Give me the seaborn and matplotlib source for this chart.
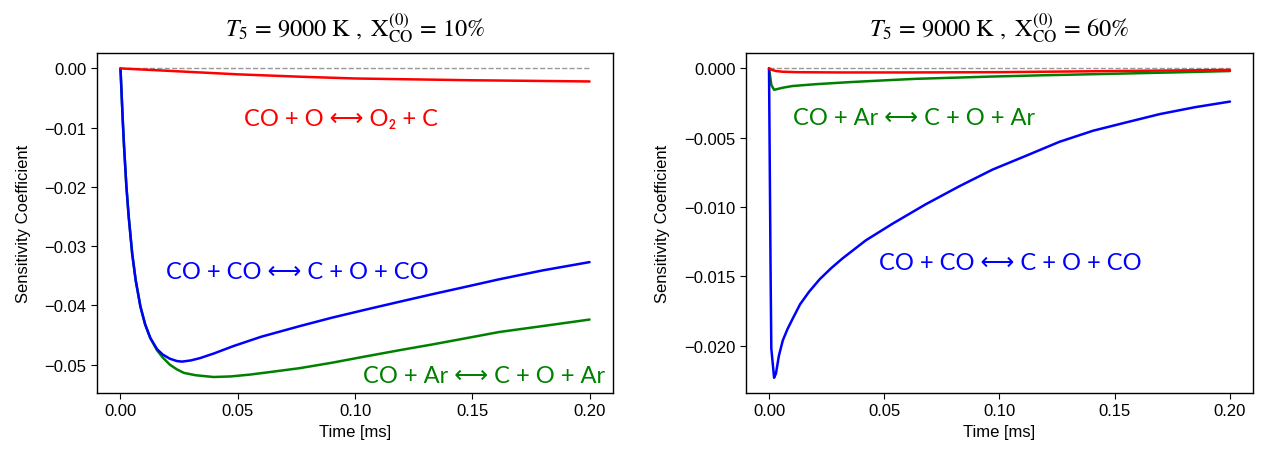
import numpy as np
import pandas as pd
import matplotlib
matplotlib.use("Agg")
import matplotlib.pyplot as plt
import seaborn as sns

# ---------------- data ----------------
# Left panel: X_CO = 10%
t_red_L = [0.0, 0.005, 0.02, 0.035, 0.05, 0.0765, 0.10, 0.125, 0.15, 0.175, 0.20]
s_red_L = [0.0, -0.0001, -0.0004, -0.0007, -0.0010, -0.0014, -0.0017, -0.00185, -0.0020, -0.0021, -0.0022]

t_blue_L = [0.0, 0.0005, 0.001, 0.0015, 0.0025, 0.0035, 0.005, 0.0065, 0.0085, 0.0105, 0.0127,
            0.0156, 0.018, 0.021, 0.024, 0.0262, 0.030, 0.034, 0.040, 0.048, 0.060, 0.0765, 0.090,
            0.1048, 0.12, 0.1332, 0.148, 0.1615, 0.18, 0.20]
s_blue_L = [0.0, -0.0045, -0.0090, -0.0130, -0.0198, -0.0250, -0.0313, -0.0358, -0.0402, -0.0432, -0.0455,
            -0.0474, -0.0483, -0.0490, -0.0494, -0.0495, -0.0493, -0.0489, -0.0481, -0.0469, -0.0453, -0.0435, -0.0421,
            -0.0407, -0.0393, -0.0381, -0.0368, -0.0356, -0.0341, -0.0327]

t_green_L = [0.0, 0.0005, 0.001, 0.0015, 0.0025, 0.0035, 0.005, 0.0065, 0.0085, 0.0105, 0.0127,
             0.0156, 0.018, 0.021, 0.024, 0.027, 0.032, 0.0397, 0.047, 0.055, 0.065, 0.0765,
             0.09, 0.1048, 0.12, 0.133, 0.148, 0.1615, 0.18, 0.20]
s_green_L = [0.0, -0.0045, -0.0090, -0.0130, -0.0198, -0.0250, -0.0313, -0.0358, -0.0402, -0.0432, -0.0455,
             -0.0476, -0.0488, -0.0500, -0.0508, -0.0514, -0.0518, -0.0521, -0.0520, -0.0517, -0.0512, -0.0506,
             -0.0497, -0.0486, -0.0475, -0.0466, -0.0455, -0.0445, -0.0435, -0.0424]

# Right panel: X_CO = 60%
t_red_R = [0.0, 0.001, 0.003, 0.006, 0.012, 0.03, 0.06, 0.10, 0.15, 0.20]
s_red_R = [0.0, -0.0001, -0.0002, -0.00025, -0.00028, -0.0003, -0.0003, -0.00028, -0.0002, -0.00012]

t_blue_R = [0.0, 0.0007, 0.001, 0.0022, 0.003, 0.0043, 0.006, 0.008, 0.0101, 0.0135, 0.0174,
            0.022, 0.027, 0.0319, 0.042, 0.0536, 0.068, 0.0826, 0.097, 0.1116, 0.126, 0.1406, 0.155,
            0.1696, 0.185, 0.20]
s_blue_R = [0.0, -0.0150, -0.0202, -0.0223, -0.0220, -0.0207, -0.0196, -0.0188, -0.0181, -0.0170, -0.0161,
            -0.0152, -0.0144, -0.0137, -0.0124, -0.0112, -0.0098, -0.0085, -0.0073, -0.0063, -0.0053, -0.0045, -0.0039,
            -0.0033, -0.0028, -0.0024]

t_green_R = [0.0, 0.001, 0.0022, 0.0035, 0.006, 0.0101, 0.02, 0.0348, 0.05, 0.0638, 0.08,
             0.0957, 0.12, 0.148, 0.175, 0.20]
s_green_R = [0.0, -0.0012, -0.00155, -0.0015, -0.0014, -0.00128, -0.00115, -0.0010, -0.00087, -0.00076, -0.00068,
             -0.00060, -0.0005, -0.0004, -0.0003, -0.0002]

zero_t = [0.0, 0.20]
zero_s = [0.0, 0.0]

titles = [r"$T_5\,=\,9000\ \mathrm{K}\ ,\ \mathrm{X}_{\mathrm{CO}}^{(0)}\,=\,10\%$",
          r"$T_5\,=\,9000\ \mathrm{K}\ ,\ \mathrm{X}_{\mathrm{CO}}^{(0)}\,=\,60\%$"]
lbl_O = "CO + O ⟷ O₂ + C"
lbl_CO = "CO + CO ⟷ C + O + CO"
lbl_Ar = "CO + Ar ⟷ C + O + Ar"

# ---------------- plotting ----------------
sns.set_style("ticks")
plt.rcParams["font.family"] = ["Liberation Sans", "DejaVu Sans"]
plt.rcParams["mathtext.fontset"] = "stix"
for k in ["text.color", "axes.labelcolor", "xtick.color", "ytick.color", "axes.edgecolor"]:
    plt.rcParams[k] = "black"

fig = plt.figure(figsize=(12.65, 4.52), dpi=100)
axL = fig.add_axes([0.0767, 0.1283, 0.4079, 0.7522])
axR = fig.add_axes([0.5897, 0.1283, 0.4008, 0.7522])

lw = 1.8
ann_font = ["Lato", "DejaVu Sans"]


def draw(ax, tr, sr, tb, sb, tg, sg):
    sns.lineplot(x=zero_t, y=zero_s, ax=ax, color="#999999", linestyle="--", lw=1.0)
    sns.lineplot(x=tg, y=sg, ax=ax, color="green", lw=lw, sort=False)
    sns.lineplot(x=tb, y=sb, ax=ax, color="blue", lw=lw, sort=False)
    sns.lineplot(x=tr, y=sr, ax=ax, color="red", lw=lw, sort=False)
    ax.set_xlabel("Time [ms]", fontsize=12)
    ax.set_ylabel("Sensitivity Coefficient", fontsize=12, labelpad=10)
    ax.tick_params(labelsize=12, direction="out", length=4)
    ax.set_xticks([0.0, 0.05, 0.10, 0.15, 0.20])
    for s in ax.spines.values():
        s.set_linewidth(1.0)
        s.set_color("black")


draw(axL, t_red_L, s_red_L, t_blue_L, s_blue_L, t_green_L, s_green_L)
draw(axR, t_red_R, s_red_R, t_blue_R, s_blue_R, t_green_R, s_green_R)

axL.set_xlim(-0.01, 0.21)
axL.set_ylim(-0.0548, 0.0026)
axL.set_yticks([0.0, -0.01, -0.02, -0.03, -0.04, -0.05])
axL.set_yticklabels(["0.00", "−0.01", "−0.02", "−0.03", "−0.04", "−0.05"])

axR.set_xlim(-0.01, 0.21)
axR.set_ylim(-0.0234, 0.0011)
axR.set_yticks([0.0, -0.005, -0.010, -0.015, -0.020])
axR.set_yticklabels(["0.000", "−0.005", "−0.010", "−0.015", "−0.020"])

axL.set_title(titles[0], fontsize=17.5, pad=13)
axR.set_title(titles[1], fontsize=17.5, pad=13)

fs = 17
axL.text(0.094, -0.0084, lbl_O, color="red", fontsize=fs, ha="center", va="center", family=ann_font)
axL.text(0.0752, -0.0343, lbl_CO, color="blue", fontsize=fs, ha="center", va="center", family=ann_font)
axL.text(0.155, -0.0519, lbl_Ar, color="green", fontsize=fs, ha="center", va="center", family=ann_font)

axR.text(0.063, -0.00354, lbl_Ar, color="green", fontsize=fs, ha="center", va="center", family=ann_font)
axR.text(0.1048, -0.0140, lbl_CO, color="blue", fontsize=fs, ha="center", va="center", family=ann_font)

fig.savefig("out.png", dpi=100)
